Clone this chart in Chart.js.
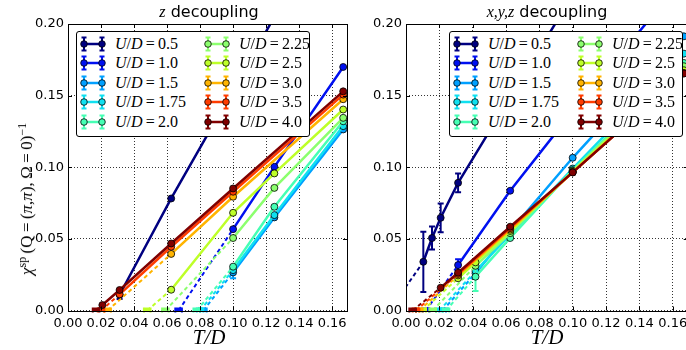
<!DOCTYPE html>
<html><head><meta charset="utf-8">
<script src="https://cdn.jsdelivr.net/npm/chart.js@4/dist/chart.umd.min.js"></script>
<style>
html,body{margin:0;padding:0;background:#fff;overflow:hidden;width:686px;height:350px;}
#wrap{position:relative;width:686px;height:350px;overflow:hidden;}
canvas{position:absolute;top:0;}
.ov{position:absolute;white-space:nowrap;color:#000;}
.title{font-family:'DejaVu Sans';font-size:16px;transform:translate(-50%,-50%);top:11px;}
.m{font-family:'Liberation Serif','DejaVu Serif',serif;font-style:italic;}
.r{font-family:'Liberation Serif','DejaVu Serif',serif;font-style:normal;}
.xl{font-family:'Liberation Serif',serif;font-style:italic;font-size:21px;top:337px;transform:translate(-50%,-50%);}
.yl{font-family:'Liberation Serif',serif;font-size:17px;line-height:20px;left:27px;top:199px;transform:translate(-50%,-50%) rotate(-90deg);}
.yl sup{font-size:12px;vertical-align:6px;line-height:0;}
.legend{position:absolute;border:1px solid #000;border-radius:3px;background:#fff;width:232px;height:104px;top:31px;}
.row{position:absolute;height:18px;}
.row svg{position:absolute;top:0;}
.row span{position:absolute;top:0;font-size:16px;line-height:18px;font-family:'Liberation Serif',serif;white-space:nowrap;}
</style>
</head><body>
<div id="wrap">
<canvas id="c1" width="352" height="350" style="left:0px"></canvas>
<canvas id="c2" width="350" height="350" style="left:352px"></canvas>
<div class="ov title" style="left:209px"><span class="m">z</span> decoupling</div>
<div class="ov title" style="left:547px"><span class="m">x,y,z</span> decoupling</div>
<div class="ov xl" style="left:209px">T/D</div>
<div class="ov xl" style="left:547px">T/D</div>
<div class="ov yl"><span class="m">χ</span><sup class="r">sp</sup><span class="r">&thinsp;(Q&thinsp;=&thinsp;(</span><span class="m">π</span><span class="r">,</span><span class="m">π</span><span class="r">),&thinsp;Ω&thinsp;=&thinsp;0)</span><sup class="r">−1</sup></div>
<div class="legend" id="leg1" style="left:76px"></div>
<div class="legend" id="leg2" style="left:449px"></div>
</div>
<script>
// ---- categories ----
const U_LABELS = ['0.5','1.0','1.5','1.75','2.0','2.25','2.5','3.0','3.5','4.0'];
const COLORS = ['#000080','#0010f0','#00a0ff','#10e0f0','#46ffb4','#8cff6e','#beff28','#ffb400','#ff3c00','#800000'];
const X_TICKS = [0,0.02,0.04,0.06,0.08,0.10,0.12,0.14,0.16];
const Y_TICKS = [0,0.05,0.10,0.15,0.20];
const X_MAX = 0.169;
const Y_MAX = 0.20;

// ---- z decoupling ----
const Z_T = [
 [0.03125,0.0625,0.1,0.125,0.1667],
 [0.1,0.125,0.1667],
 [0.1,0.125,0.1667],
 [0.1,0.125,0.1667],
 [0.1,0.125,0.1667],
 [0.1,0.125,0.1667],
 [0.0625,0.1,0.125,0.1667],
 [0.0625,0.1,0.1667],
 [0.03125,0.0625,0.1,0.1667],
 [0.0208,0.03125,0.0625,0.1,0.1667]
];
const Z_CHI = [
 [0.0110,0.0782,0.154,0.205,0.290],
 [0.0568,0.1003,0.1700],
 [0.0266,0.0650,0.1264],
 [0.0282,0.0666,0.1287],
 [0.0306,0.0724,0.1321],
 [0.0506,0.0856,0.1345],
 [0.0145,0.0682,0.0957,0.1403],
 [0.0395,0.0794,0.1475],
 [0.0113,0.0445,0.0829,0.1507],
 [0.0038,0.0143,0.0468,0.0852,0.1530]
];
const Z_ERR = [
 [0.003,null,null,null,null],
 [null,null,null],
 [0.004,null,null],
 [null,null,null],
 [null,null,null],
 [null,null,null],
 [null,null,null,null],
 [null,null,null],
 [null,null,null,null],
 [null,null,null,null,null]
];
const Z_TN = [null,0.067,0.082,0.080,0.078,0.059,0.048,0.024,0.020,0.017];

// ---- x,y,z decoupling ----
const XYZ_T = [
 [0.0104,0.0156,0.0208,0.03125,0.0625,0.1,0.1667],
 [0.03125,0.0625,0.1,0.1667],
 [0.0417,0.0625,0.1,0.1667],
 [0.0417,0.0625,0.1,0.1667],
 [0.0417,0.0625,0.1,0.1667],
 [0.0417,0.0625,0.1,0.1667],
 [0.03125,0.0417,0.0625,0.1,0.1667],
 [0.03125,0.0625,0.1,0.1667],
 [0.03125,0.0625,0.1,0.1667],
 [0.0208,0.03125,0.0625,0.1,0.1667]
];
const XYZ_CHI = [
 [0.0340,0.0506,0.0647,0.0891,0.149,0.220,0.330],
 [0.0317,0.0836,0.139,0.232],
 [0.0260,0.0555,0.1066,0.1914],
 [0.0275,0.0530,0.0991,0.1793],
 [0.0236,0.0506,0.0980,0.1728],
 [0.0312,0.0540,0.0975,0.1705],
 [0.0225,0.0336,0.0555,0.0970,0.1677],
 [0.0245,0.0565,0.0965,0.1658],
 [0.0255,0.0575,0.0964,0.1656],
 [0.0159,0.0264,0.0585,0.0964,0.1654]
];
const XYZ_ERR = [
 [0.021,0.008,0.010,0.0065,null,null,null],
 [0.004,null,null,null],
 [null,null,null,null],
 [null,null,null,null],
 [0.010,null,null,null],
 [null,null,null,null],
 [null,null,null,null,null],
 [null,null,null,null],
 [null,null,null,null],
 [null,null,null,null,null]
];
const XYZ_TN = [-0.010,0.012,0.022,0.020,0.024,0.016,0.010,0.008,0.006,0.004];
const TN_ERR = 0.002;

function buildDatasets(T, CHI, ERR, TN){
  const out = [];
  for (let i = 0; i < T.length; i++){
    const c = COLORS[i];
    const base = (T.length - 1 - i) * 10;
    out.push({
      data: T[i].map((t,j)=>({x:t, y:CHI[i][j]})),
      errY: ERR[i],
      borderColor: c, backgroundColor: c, borderWidth: 2.5,
      pointRadius: 3.5, pointBackgroundColor: c, pointBorderColor: '#000', pointBorderWidth: 0.8,
      tension: 0, order: base
    });
    if (TN[i] !== null){
      out.push({
        data: [{x:TN[i], y:0}, {x:T[i][0], y:CHI[i][0]}],
        borderColor: c, borderWidth: 2, borderDash: [4,3], pointRadius: 0,
        tension: 0, order: base + 2
      });
      out.push({
        data: [{x:TN[i], y:0}],
        errX: [TN_ERR],
        showLine: false, borderColor: c, backgroundColor: c,
        pointStyle: 'rect', pointRadius: 3.5, pointBackgroundColor: c, pointBorderColor: c, pointBorderWidth: 1,
        order: base + 1
      });
    }
  }
  return out;
}

const errPlugin = {
  id: 'errbars',
  beforeDatasetDraw(chart, args){
    const ds = chart.data.datasets[args.index];
    if (!ds.errY && !ds.errX) return;
    const {ctx, chartArea:a} = chart;
    const xs = chart.scales.x, ys = chart.scales.y;
    ctx.save();
    ctx.beginPath(); ctx.rect(a.left, a.top-2, a.right-a.left, a.bottom-a.top+4); ctx.clip();
    ctx.strokeStyle = ds.borderColor; ctx.lineWidth = 2;
    ds.data.forEach((p,j)=>{
      const px = xs.getPixelForValue(p.x), py = ys.getPixelForValue(p.y);
      const ey = ds.errY ? ds.errY[j] : null;
      if (ey){
        const y1 = ys.getPixelForValue(p.y-ey), y2 = ys.getPixelForValue(p.y+ey);
        ctx.beginPath();
        ctx.moveTo(px,y1); ctx.lineTo(px,y2);
        ctx.moveTo(px-3,y1); ctx.lineTo(px+3,y1);
        ctx.moveTo(px-3,y2); ctx.lineTo(px+3,y2);
        ctx.stroke();
      }
      const ex = ds.errX ? ds.errX[j] : null;
      if (ex){
        const x1 = xs.getPixelForValue(p.x-ex), x2 = xs.getPixelForValue(p.x+ex);
        ctx.beginPath();
        ctx.moveTo(x1,py); ctx.lineTo(x2,py);
        ctx.moveTo(x1,py-3); ctx.lineTo(x1,py+3);
        ctx.moveTo(x2,py-3); ctx.lineTo(x2,py+3);
        ctx.stroke();
      }
    });
    ctx.restore();
  }
};

const framePlugin = {
  id: 'frame',
  afterDraw(chart){
    const {ctx, chartArea:a} = chart;
    const xs = chart.scales.x, ys = chart.scales.y;
    ctx.save();
    ctx.strokeStyle = '#000'; ctx.lineWidth = 1;
    ctx.beginPath();
    xs.ticks.forEach(t=>{
      const px = Math.round(xs.getPixelForValue(t.value)) + 0.5;
      ctx.moveTo(px, a.bottom); ctx.lineTo(px, a.bottom-4);
      ctx.moveTo(px, a.top); ctx.lineTo(px, a.top+4);
    });
    ys.ticks.forEach(t=>{
      const py = Math.round(ys.getPixelForValue(t.value)) + 0.5;
      ctx.moveTo(a.left, py); ctx.lineTo(a.left+4, py);
      ctx.moveTo(a.right, py); ctx.lineTo(a.right-4, py);
    });
    ctx.stroke();
    ctx.strokeRect(Math.round(a.left)+0.5, Math.round(a.top)+0.5, Math.round(a.right-a.left), Math.round(a.bottom-a.top));
    ctx.restore();
  }
};

function makeChart(id, datasets, yWidth, padRight){
  return new Chart(document.getElementById(id), {
    type: 'line',
    data: { datasets },
    options: {
      responsive: false, animation: false, devicePixelRatio: 1,
      layout: { padding: { left: 0, right: padRight, top: 24, bottom: 0 } },
      plugins: { legend: { display: false }, tooltip: { enabled: false } },
      scales: {
        x: {
          type: 'linear', min: 0, max: X_MAX,
          afterFit: s => { s.height = 39.5; },
          afterBuildTicks: s => { s.ticks = X_TICKS.map(v=>({value:v})); },
          ticks: { padding: 5, color: '#000', font: { family: 'DejaVu Sans', size: 13 },
                   callback: v => Number(v).toFixed(2), maxRotation: 0, autoSkip: false, includeBounds: false },
          grid: { color: '#000', lineWidth: 0.8, drawTicks: false, borderDash: [1,2] },
          border: { display: false, dash: [1,2] }
        },
        y: {
          type: 'linear', min: 0, max: Y_MAX,
          afterFit: s => { s.width = yWidth; },
          afterBuildTicks: s => { s.ticks = Y_TICKS.map(v=>({value:v})); },
          ticks: { padding: 4, color: '#000', font: { family: 'DejaVu Sans', size: 13 },
                   callback: v => Number(v).toFixed(2), autoSkip: false, includeBounds: false },
          grid: { color: '#000', lineWidth: 0.8, drawTicks: false, borderDash: [1,2] },
          border: { display: false, dash: [1,2] }
        }
      }
    },
    plugins: [errPlugin, framePlugin]
  });
}

makeChart('c1', buildDatasets(Z_T, Z_CHI, Z_ERR, Z_TN), 68, 2.7);
makeChart('c2', buildDatasets(XYZ_T, XYZ_CHI, XYZ_ERR, XYZ_TN), 54, 14.3);

function symbolSVG(c, left){
  return '<svg style="left:'+left+'px" width="26" height="18" viewBox="0 0 26 18">' +
    '<line x1="4" y1="9" x2="22" y2="9" stroke="'+c+'" stroke-width="2.5"/>' +
    '<path d="M4 2.5V15.5M1.5 2.5H6.5M1.5 15.5H6.5M22 2.5V15.5M19.5 2.5H24.5M19.5 15.5H24.5" stroke="'+c+'" stroke-width="2" fill="none"/>' +
    '<circle cx="4" cy="9" r="3.3" fill="'+c+'" stroke="#000" stroke-width="0.8"/>' +
    '<circle cx="22" cy="9" r="3.3" fill="'+c+'" stroke="#000" stroke-width="0.8"/>' +
    '</svg>';
}
function buildLegend(id){
  const el = document.getElementById(id);
  let html = '';
  U_LABELS.forEach((u,i)=>{
    const col = Math.floor(i/5), row = i%5;
    const top = 2.7 + row*19.5;
    const sx = col ? 127 : 3;
    const tx = col ? 162 : 38;
    html += '<div class="row" style="top:'+top+'px;left:0;width:230px">' +
      symbolSVG(COLORS[i], sx) +
      '<span style="left:'+tx+'px"><i>U</i>/<i>D</i>&thinsp;=&thinsp;'+u+'</span></div>';
  });
  el.innerHTML = html;
}
buildLegend('leg1');
buildLegend('leg2');
</script>
</body></html>
